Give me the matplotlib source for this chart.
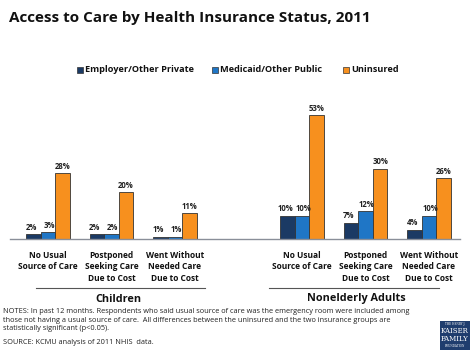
import matplotlib
matplotlib.use("Agg")
import matplotlib.pyplot as plt
from matplotlib.patches import Rectangle
import numpy as np

plt.rcParams['font.family'] = ['Open Sans', 'DejaVu Sans']

categories = ['No Usual\nSource of Care', 'Postponed\nSeeking Care\nDue to Cost',
              'Went Without\nNeeded Care\nDue to Cost']
groups = ['Children', 'Nonelderly Adults']
series = ['Employer/Other Private', 'Medicaid/Other Public', 'Uninsured']
children = {'Employer/Other Private': [2, 2, 1],
            'Medicaid/Other Public': [3, 2, 1],
            'Uninsured': [28, 20, 11]}
adults = {'Employer/Other Private': [10, 7, 4],
          'Medicaid/Other Public': [10, 12, 10],
          'Uninsured': [53, 30, 26]}
colors = ['#1b3a64', '#1f76c6', '#f7901e']

W, H = 474, 355
fig = plt.figure(figsize=(W / 100, H / 100), dpi=100)

# axes placed in pixel terms: baseline at y=239, x from 10 to 460
ax = fig.add_axes([10 / W, (H - 239) / H, 450 / W, 139 / H])
x_pos = {'Children': np.array([0, 1, 2]), 'Nonelderly Adults': np.array([4, 5, 6])}
ax.set_xlim((10 - 48) / 63.5, (460 - 48) / 63.5)
ax.set_ylim(0, 139 / 2.34)
bw = 0.23
label_shift = [-0.035, 0.02, 0.0]  # keep neighbouring % labels apart

for grp, data in [('Children', children), ('Nonelderly Adults', adults)]:
    xs = x_pos[grp]
    for i, s in enumerate(series):
        vals = data[s]
        xx = xs + (i - 1) * bw
        ax.bar(xx, vals, width=bw, color=colors[i], edgecolor='#333333', linewidth=0.6)
        for x, v in zip(xx, vals):
            ax.text(x + label_shift[i], v + 1.0, f'{v}%', ha='center', va='bottom',
                    fontsize=5.6, fontweight='bold', color='#222222')
    for x, c in zip(xs, categories):
        ax.text(x, -5.0, c, ha='center', va='top', fontsize=6.0, fontweight='bold',
                color='#111111', linespacing=1.35)

for s in ['top', 'right', 'left']:
    ax.spines[s].set_visible(False)
ax.spines['bottom'].set_color('#8a8f99')
ax.spines['bottom'].set_linewidth(1.0)
ax.set_xticks([])
ax.set_yticks([])

# group underlines and labels
fig.add_artist(plt.Line2D([36 / W, 205 / W], [(H - 288) / H] * 2, color='#555555', lw=0.8))
fig.add_artist(plt.Line2D([269 / W, 439 / W], [(H - 288) / H] * 2, color='#555555', lw=0.8))
fig.text(118 / W, (H - 299) / H, groups[0], ha='center', va='center', fontsize=7.8,
         fontweight='bold', color='#111111')
fig.text(356 / W, (H - 299) / H, groups[1], ha='center', va='center', fontsize=7.8,
         fontweight='bold', color='#111111')

# title
fig.text(9 / W, (H - 18) / H, 'Access to Care by Health Insurance Status, 2011',
         ha='left', va='center', fontsize=11, fontweight='bold', color='#111111')

# legend
leg_items = [(77, series[0]), (212, series[1]), (343, series[2])]
for (lx, lab), col in zip(leg_items, colors):
    fig.add_artist(Rectangle((lx / W, (H - 73) / H), 6 / W, 6 / H, facecolor=col,
                             edgecolor='#333333', linewidth=0.5))
    fig.text((lx + 8) / W, (H - 70) / H, lab, ha='left', va='center', fontsize=6.6,
             fontweight='bold', color='#111111')

# notes
notes = ('NOTES: In past 12 months. Respondents who said usual source of care was the emergency room were included among\n'
         'those not having a usual source of care.  All differences between the uninsured and the two insurance groups are\n'
         'statistically significant (p<0.05).')
fig.text(3 / W, (H - 308) / H, notes, ha='left', va='top', fontsize=5.3, color='#222222',
         linespacing=1.35)
fig.text(3 / W, (H - 343) / H, 'SOURCE: KCMU analysis of 2011 NHIS  data.', ha='left',
         va='center', fontsize=5.3, color='#222222')

# logo
fig.add_artist(Rectangle((440 / W, (H - 350) / H), 30 / W, 29 / H, facecolor='#1f3d6e',
                         edgecolor='none'))
fig.text(455 / W, (H - 324) / H, 'THE HENRY J.', ha='center', va='center', fontsize=2,
         color='white', family='DejaVu Serif')
fig.text(455 / W, (H - 331) / H, 'KAISER', ha='center', va='center', fontsize=5,
         color='white', family='DejaVu Serif')
fig.text(455 / W, (H - 339) / H, 'FAMILY', ha='center', va='center', fontsize=5,
         color='white', family='DejaVu Serif')
fig.text(455 / W, (H - 346) / H, 'FOUNDATION', ha='center', va='center', fontsize=2,
         color='white', family='DejaVu Serif')

fig.savefig('out.png', dpi=100)
